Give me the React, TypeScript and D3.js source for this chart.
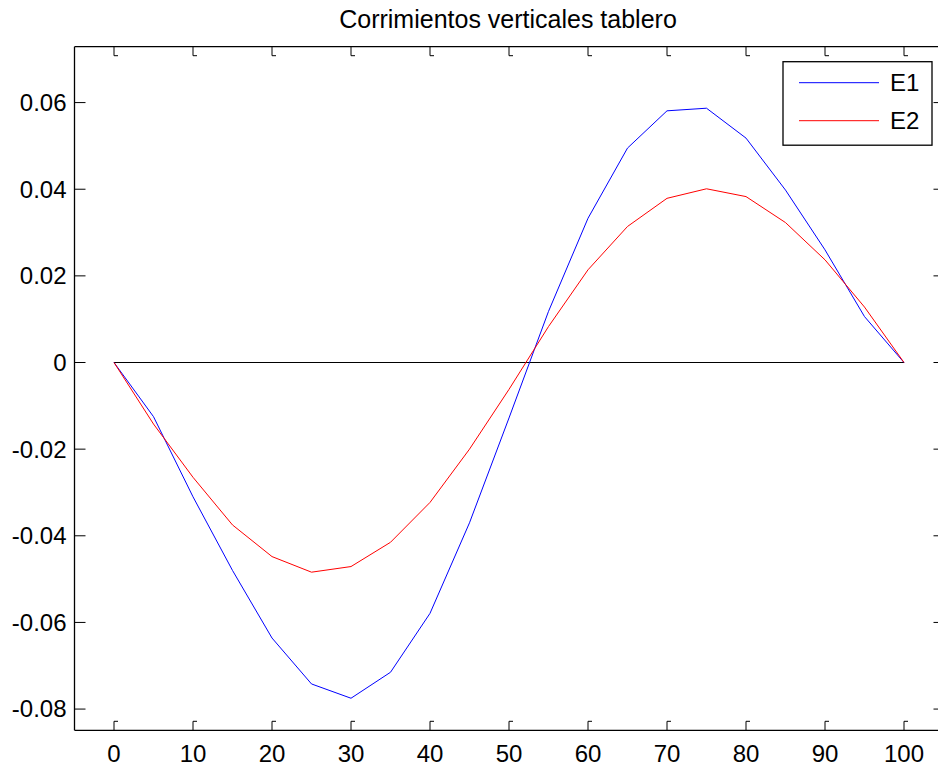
import React from "react";
import * as d3 from "d3";

const xValues = [0, 5, 10, 15, 20, 25, 30, 35, 40, 45, 50, 55, 60, 65, 70, 75, 80, 85, 90, 95, 100];
const e1Values = [0, -0.0125, -0.031, -0.048, -0.0636, -0.0742, -0.0775, -0.0715, -0.0579, -0.037, -0.0128, 0.0118, 0.0333, 0.0495, 0.0581, 0.0587, 0.0518, 0.0398, 0.026, 0.0106, 0];
const e2Values = [0, -0.0142, -0.0265, -0.0375, -0.0448, -0.0484, -0.0471, -0.0415, -0.0323, -0.02, -0.0062, 0.0083, 0.0214, 0.0314, 0.0379, 0.0401, 0.0383, 0.0323, 0.0237, 0.0128, 0];
const xTicks = [0, 10, 20, 30, 40, 50, 60, 70, 80, 90, 100];
const yTicks = [-0.08, -0.06, -0.04, -0.02, 0, 0.02, 0.04, 0.06];
const yTickLabels = ["-0.08", "-0.06", "-0.04", "-0.02", "0", "0.02", "0.04", "0.06"];
const seriesNames = ["E1", "E2"];
const seriesColors = ["#0000ff", "#ff0000"];
const zeroLine = [0, 100];
const title = "Corrimientos verticales tablero";

const W = 938;
const H = 769;
const FONT = "'Liberation Sans', Arial, Helvetica, sans-serif";

export default function App() {
  const x = d3.scaleLinear().domain([-5, 105]).range([74.5, 943.5]);
  const y = d3.scaleLinear().domain([-0.0849, 0.0729]).range([730.3, 46.7]);
  const [x0, x1] = x.range();
  const [yb, yt] = y.range();

  const line = d3
    .line<number>()
    .x((_, i) => x(xValues[i]))
    .y((d) => y(d));

  const series = [e1Values, e2Values];

  const legend = { x: 783, y: 61.7, w: 149, h: 83.5 };

  return (
    <svg
      width={W}
      height={H}
      style={{ position: "absolute", left: 0, top: 0, background: "#fff", overflow: "hidden" }}
      fontFamily={FONT}
    >
      <rect x={0} y={0} width={W} height={H} fill="#fff" />
      <text x={508} y={28} textAnchor="middle" fontSize={25} fill="#000">
        {title}
      </text>

      {/* zero line */}
      <line x1={x(zeroLine[0])} x2={x(zeroLine[1])} y1={y(0)} y2={y(0)} stroke="#000" strokeWidth={1} />

      {series.map((s, i) => (
        <path key={i} d={line(s) || ""} fill="none" stroke={seriesColors[i]} strokeWidth={1} />
      ))}

      {/* axes box */}
      <line x1={x0} x2={x1} y1={yt} y2={yt} stroke="#000" strokeWidth={1.3} />
      <line x1={x0} x2={x1} y1={yb} y2={yb} stroke="#000" strokeWidth={1.3} />
      <line x1={x0} x2={x0} y1={yt} y2={yb} stroke="#000" strokeWidth={1.3} />
      <line x1={x1} x2={x1} y1={yt} y2={yb} stroke="#000" strokeWidth={1.3} />

      {/* x ticks */}
      {xTicks.map((t) => {
        const px = x(t);
        return (
          <g key={"xt" + t}>
            <path d={`M${px},${yb} V${yb - 9} h4`} fill="none" stroke="#000" strokeWidth={1} />
            <path d={`M${px},${yt} V${yt + 9} h4`} fill="none" stroke="#000" strokeWidth={1} />
            <text x={px} y={762} textAnchor="middle" fontSize={24} fill="#000">
              {t}
            </text>
          </g>
        );
      })}

      {/* y ticks */}
      {yTicks.map((t, i) => {
        const py = y(t);
        return (
          <g key={"yt" + i}>
            <line x1={x0} x2={x0 + 11} y1={py} y2={py} stroke="#000" strokeWidth={1} />
            <line x1={x1} x2={x1 - 10} y1={py} y2={py} stroke="#000" strokeWidth={1} />
            <text x={66.5} y={py} dy="0.35em" textAnchor="end" fontSize={24} fill="#000">
              {yTickLabels[i]}
            </text>
          </g>
        );
      })}

      {/* legend */}
      <rect x={legend.x} y={legend.y} width={legend.w} height={legend.h} fill="#fff" stroke="#000" strokeWidth={1.3} />
      {seriesNames.map((name, i) => {
        const ly = 82.7 + i * 38;
        return (
          <g key={name}>
            <line x1={799} x2={879} y1={ly} y2={ly} stroke={seriesColors[i]} strokeWidth={1} />
            <text x={890} y={ly} dy="0.35em" fontSize={24} fill="#000">
              {name}
            </text>
          </g>
        );
      })}
    </svg>
  );
}
